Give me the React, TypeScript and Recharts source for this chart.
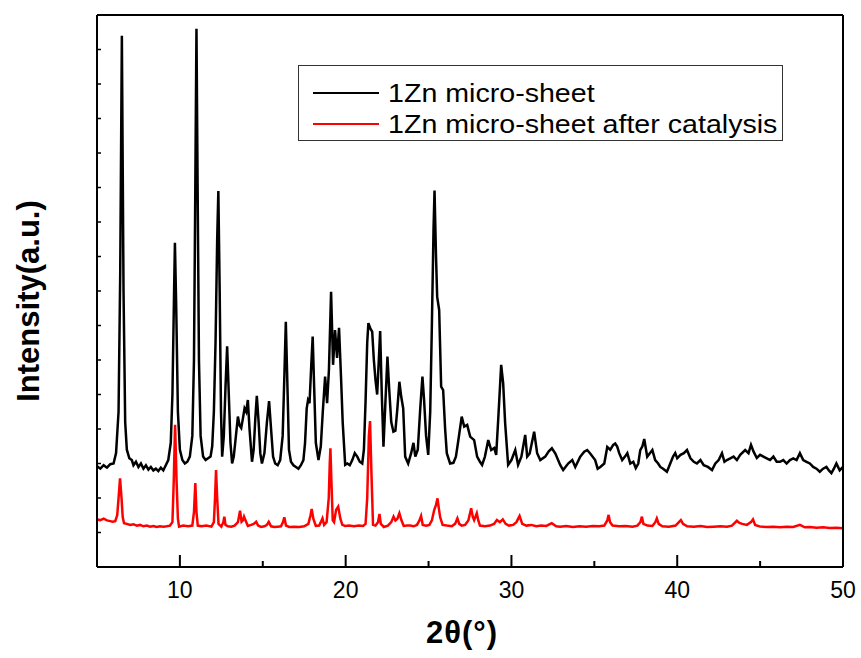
import React from 'react';
import { LineChart, Line, XAxis, YAxis, Legend } from 'recharts';

// 2θ / intensity pairs
const pristineX = [
  5.0, 5.2, 5.4, 5.6, 5.8, 6.0, 6.15, 6.3, 6.4, 6.5, 6.6, 6.7, 6.8, 6.95, 7.1, 7.2, 7.35, 7.5, 7.65, 7.8,
  7.95, 8.1, 8.25, 8.4, 8.55, 8.7, 8.85, 9.0, 9.15, 9.3, 9.45, 9.55, 9.65, 9.7, 9.78, 9.88, 10.0, 10.15, 10.3, 10.45,
  10.6, 10.75, 10.85, 10.93, 11.0, 11.07, 11.15, 11.25, 11.4, 11.55, 11.7, 11.85, 11.95, 12.05, 12.15, 12.25, 12.32, 12.4, 12.48, 12.55,
  12.65, 12.75, 12.85, 12.95, 13.05, 13.15, 13.25, 13.38, 13.5, 13.6, 13.7, 13.8, 13.9, 14.0, 14.1, 14.2, 14.35, 14.45, 14.55, 14.64,
  14.75, 14.85, 14.95, 15.1, 15.25, 15.38, 15.5, 15.62, 15.75, 15.9, 16.05, 16.2, 16.3, 16.39, 16.5, 16.58, 16.7, 16.85, 17.0, 17.15,
  17.3, 17.45, 17.55, 17.65, 17.73, 17.82, 17.92, 18.01, 18.1, 18.2, 18.36, 18.5, 18.62, 18.76, 18.88, 18.99, 19.12, 19.24, 19.36, 19.48,
  19.6, 19.72, 19.82, 19.97, 20.1, 20.25, 20.4, 20.55, 20.7, 20.85, 21.0, 21.1, 21.2, 21.3, 21.37, 21.5, 21.6, 21.7, 21.8, 21.9,
  21.98, 22.08, 22.18, 22.28, 22.4, 22.52, 22.62, 22.75, 22.88, 23.0, 23.12, 23.24, 23.35, 23.47, 23.59, 23.77, 23.95, 24.09, 24.2, 24.35,
  24.5, 24.63, 24.73, 24.85, 24.98, 25.1, 25.2, 25.3, 25.36, 25.45, 25.52, 25.64, 25.76, 25.88, 26.0, 26.1, 26.3, 26.5, 26.65, 26.8,
  27.0, 27.15, 27.33, 27.51, 27.75, 27.93, 28.1, 28.23, 28.4, 28.6, 28.78, 28.96, 29.08, 29.2, 29.38, 29.5, 29.62, 29.8, 30.0, 30.23,
  30.4, 30.6, 30.83, 30.95, 31.1, 31.37, 31.55, 31.74, 32.04, 32.25, 32.44, 32.65, 32.94, 33.12, 33.42, 33.67, 33.85, 34.15, 34.39, 34.57,
  34.75, 35.05, 35.2, 35.36, 35.6, 35.78, 35.96, 36.14, 36.26, 36.38, 36.5, 36.68, 36.85, 36.99, 37.17, 37.35, 37.5, 37.65, 37.77, 37.9,
  38.01, 38.19, 38.35, 38.5, 38.67, 38.85, 38.98, 39.15, 39.38, 39.58, 39.75, 39.88, 40.0, 40.2, 40.4, 40.59, 40.8, 41.0, 41.19, 41.4,
  41.6, 41.85, 42.1, 42.3, 42.5, 42.7, 42.85, 43.0, 43.2, 43.4, 43.6, 43.8, 44.1, 44.3, 44.45, 44.6, 44.8, 45.0, 45.2, 45.4,
  45.6, 45.8, 46.0, 46.2, 46.4, 46.6, 46.8, 47.0, 47.2, 47.4, 47.6, 47.8, 48.0, 48.2, 48.4, 48.6, 48.8, 49.0, 49.15, 49.3,
  49.45, 49.6, 49.8, 50.0,
];
const pristineY = [
  2.92, 2.85, 2.95, 2.88, 2.98, 3.0, 3.3, 4.5, 8.5, 15.4, 8.0, 4.2, 3.4, 3.15, 3.1, 2.95, 3.05, 2.9, 3.0, 2.85,
  2.95, 2.82, 2.9, 2.8, 2.85, 2.78, 2.88, 2.8, 2.95, 3.1, 3.6, 5.0, 8.0, 9.4, 7.5, 4.5, 3.4, 3.1, 3.0, 3.05,
  3.2, 3.8, 6.0, 11.0, 15.6, 11.0, 6.0, 3.8, 3.2, 3.1, 3.15, 3.2, 3.5, 4.5, 6.5, 9.5, 10.9, 8.0, 4.5, 3.2,
  3.8, 5.2, 6.4, 5.0, 3.6, 3.0, 3.2, 3.8, 4.36, 4.1, 4.03, 4.3, 4.6, 4.5, 4.84, 4.0, 3.05, 3.4, 4.3, 4.96,
  4.2, 3.3, 3.0, 3.3, 4.2, 4.81, 4.0, 3.2, 3.0, 2.95, 3.1, 3.8, 5.5, 7.11, 5.0, 3.4, 3.05, 2.95, 2.9, 2.85,
  2.95, 3.1, 3.6, 4.6, 4.84, 4.75, 5.8, 6.68, 5.2, 3.6, 3.1, 3.5, 4.5, 5.52, 4.75, 5.71, 7.98, 5.86, 6.87, 6.06,
  6.93, 5.5, 4.2, 2.96, 3.0, 2.95, 3.1, 3.3, 3.2, 3.05, 3.0, 3.4, 4.8, 6.5, 7.07, 6.9, 6.82, 6.0, 5.42, 5.0,
  5.8, 6.84, 5.0, 3.49, 4.8, 6.1, 5.2, 4.2, 3.92, 3.95, 4.6, 5.37, 4.94, 4.6, 3.2, 3.0, 3.3, 3.6, 3.2, 3.4,
  4.6, 5.52, 4.84, 3.8, 3.25, 4.5, 7.0, 9.8, 10.91, 9.0, 7.83, 7.45, 5.23, 5.13, 4.0, 3.3, 3.0, 3.02, 3.2, 3.68,
  4.36, 4.07, 4.12, 3.78, 3.68, 3.2, 3.05, 2.96, 3.2, 3.68, 3.39, 3.45, 3.25, 4.26, 5.86, 5.33, 4.17, 2.96, 3.1, 3.39,
  2.96, 3.2, 3.83, 3.2, 3.29, 3.92, 3.3, 3.1, 3.2, 3.35, 3.44, 3.29, 2.96, 2.81, 3.0, 3.1, 2.9, 3.2, 3.34, 3.39,
  3.29, 3.1, 2.85, 2.9, 3.0, 3.48, 3.4, 3.54, 3.58, 3.49, 3.3, 3.1, 3.2, 3.3, 3.0, 3.05, 2.87, 3.0, 3.39, 3.5,
  3.71, 3.2, 3.3, 3.39, 3.1, 3.0, 2.9, 2.85, 2.76, 3.0, 3.2, 3.3, 3.15, 3.25, 3.3, 3.39, 3.15, 3.05, 3.0, 3.1,
  2.95, 2.9, 2.81, 3.0, 3.1, 3.3, 3.05, 3.1, 3.15, 3.2, 3.1, 3.25, 3.39, 3.3, 3.54, 3.35, 3.16, 3.25, 3.2, 3.15,
  3.1, 3.2, 3.05, 3.05, 3.1, 3.0, 3.1, 3.15, 3.1, 3.3, 3.1, 3.05, 3.0, 2.9, 2.85, 2.76, 2.85, 2.9, 2.8, 2.72,
  2.85, 3.0, 2.8, 2.9,
];

const catalysisX = [
  5.0, 5.2, 5.4, 5.6, 5.8, 5.94, 6.1, 6.22, 6.3, 6.39, 6.48, 6.55, 6.63, 6.8, 7.0, 7.2, 7.4, 7.6, 7.8, 8.0,
  8.2, 8.4, 8.6, 8.8, 9.0, 9.2, 9.4, 9.55, 9.63, 9.71, 9.8, 9.88, 9.95, 10.2, 10.5, 10.75, 10.85, 10.93, 11.0, 11.08,
  11.3, 11.6, 11.9, 12.05, 12.12, 12.18, 12.25, 12.33, 12.5, 12.62, 12.68, 12.75, 12.9, 13.1, 13.3, 13.5, 13.63, 13.72, 13.8, 13.87,
  13.95, 14.1, 14.3, 14.45, 14.6, 14.72, 14.9, 15.1, 15.25, 15.36, 15.5, 15.7, 15.9, 16.1, 16.22, 16.3, 16.4, 16.6, 16.9, 17.2,
  17.5, 17.75, 17.88, 17.95, 18.05, 18.2, 18.4, 18.5, 18.6, 18.7, 18.85, 18.98, 19.04, 19.08, 19.14, 19.22, 19.3, 19.42, 19.55, 19.68,
  19.8, 19.97, 20.2, 20.5, 20.8, 21.05, 21.2, 21.3, 21.4, 21.47, 21.55, 21.65, 21.8, 21.95, 22.04, 22.12, 22.3, 22.55, 22.75, 22.89,
  23.0, 23.12, 23.24, 23.36, 23.5, 23.7, 23.89, 24.1, 24.3, 24.45, 24.55, 24.65, 24.85, 25.05, 25.2, 25.34, 25.45, 25.54, 25.62, 25.7,
  25.85, 26.1, 26.4, 26.6, 26.74, 26.85, 27.0, 27.2, 27.4, 27.57, 27.67, 27.75, 27.91, 28.0, 28.1, 28.4, 28.7, 28.95, 29.12, 29.3,
  29.48, 29.65, 29.85, 30.1, 30.3, 30.49, 30.65, 30.9, 31.2, 31.5, 31.8, 32.1, 32.43, 32.7, 32.94, 33.3, 33.7, 34.1, 34.5, 34.9,
  35.3, 35.6, 35.78, 35.86, 35.95, 36.1, 36.5, 36.9, 37.3, 37.6, 37.78, 37.87, 37.96, 38.2, 38.5, 38.68, 38.77, 38.88, 39.1, 39.5,
  39.9, 40.1, 40.22, 40.35, 40.6, 41.0, 41.4, 41.8, 42.2, 42.6, 43.0, 43.3, 43.6, 43.75, 43.92, 44.2, 44.45, 44.57, 44.7, 45.0,
  45.4, 45.8, 46.2, 46.6, 47.0, 47.4, 47.7, 48.0, 48.4, 48.8, 49.2, 49.6, 50.0,
];
const catalysisY = [
  1.38, 1.36, 1.4, 1.35, 1.33, 1.31, 1.33, 1.5, 2.0, 2.57, 2.0, 1.45, 1.27, 1.25, 1.22, 1.24, 1.2, 1.22, 1.18, 1.2,
  1.17, 1.19, 1.16, 1.18, 1.17, 1.18, 1.2, 1.3, 2.5, 4.12, 2.5, 1.4, 1.17, 1.2, 1.18, 1.2, 1.6, 2.43, 1.6, 1.2,
  1.18, 1.2, 1.17, 1.3, 2.0, 2.81, 2.0, 1.25, 1.17, 1.3, 1.46, 1.22, 1.18, 1.17, 1.2, 1.3, 1.63, 1.31, 1.35, 1.46,
  1.36, 1.19, 1.22, 1.25, 1.31, 1.2, 1.16, 1.18, 1.22, 1.31, 1.18, 1.16, 1.17, 1.18, 1.3, 1.44, 1.2, 1.16, 1.17, 1.16,
  1.18, 1.25, 1.5, 1.68, 1.4, 1.19, 1.2, 1.3, 1.41, 1.22, 1.3, 2.0, 3.0, 3.44, 2.5, 1.35, 1.3, 1.65, 1.75, 1.4,
  1.22, 1.19, 1.2, 1.18, 1.2, 1.19, 1.25, 2.0, 3.8, 4.23, 2.8, 1.22, 1.2, 1.3, 1.54, 1.25, 1.16, 1.2, 1.3, 1.46,
  1.35, 1.4, 1.56, 1.36, 1.19, 1.2, 1.2, 1.18, 1.22, 1.35, 1.48, 1.22, 1.2, 1.22, 1.35, 1.65, 1.8, 1.99, 1.7, 1.44,
  1.22, 1.2, 1.18, 1.25, 1.41, 1.25, 1.2, 1.22, 1.35, 1.7, 1.45, 1.36, 1.56, 1.35, 1.2, 1.18, 1.2, 1.25, 1.36, 1.3,
  1.38, 1.25, 1.2, 1.22, 1.3, 1.48, 1.25, 1.2, 1.22, 1.18, 1.2, 1.19, 1.27, 1.18, 1.17, 1.19, 1.16, 1.18, 1.17, 1.19,
  1.18, 1.2, 1.35, 1.51, 1.3, 1.2, 1.18, 1.19, 1.17, 1.2, 1.3, 1.46, 1.25, 1.2, 1.19, 1.3, 1.41, 1.25, 1.18, 1.17,
  1.2, 1.3, 1.36, 1.25, 1.18, 1.17, 1.19, 1.16, 1.17, 1.18, 1.17, 1.2, 1.34, 1.28, 1.25, 1.22, 1.3, 1.38, 1.22, 1.17,
  1.16, 1.17, 1.15, 1.17, 1.16, 1.22, 1.15, 1.16, 1.14, 1.15, 1.13, 1.14, 1.12,
];

const xTicks = [10, 15, 20, 25, 30, 35, 40, 45, 50];
const yTicks = [0, 1, 2, 3, 4, 5, 6, 7, 8, 9, 10, 11, 12, 13, 14, 15, 16];

const SERIES = [
  { name: '1Zn micro-sheet', color: '#000000', xs: pristineX, ys: pristineY },
  { name: '1Zn micro-sheet after catalysis', color: '#ff0000', xs: catalysisX, ys: catalysisY },
];

const FONT = 'Arial, "Liberation Sans", Helvetica, sans-serif';

const XTick = (props: any) => {
  const { x, y, payload } = props;
  const major = payload.value % 10 === 0;
  return (
    <g>
      <line x1={x} x2={x} y1={y} y2={y - (major ? 12 : 6)} stroke="#000" strokeWidth={2} />
      {major && (
        <text x={x} y={y + 31} textAnchor="middle" fontSize={23} fontFamily={FONT} fill="#000">
          {payload.value}
        </text>
      )}
    </g>
  );
};

const YTick = (props: any) => {
  const { x, y } = props;
  return <line x1={x} x2={x + 4} y1={y} y2={y} stroke="#000" strokeWidth={1.5} />;
};

const XTitle = (props: any) => {
  const vb = props.viewBox || {};
  return (
    <text
      x={vb.x + vb.width / 2 - 8}
      y={vb.y + 76}
      textAnchor="middle"
      fontSize={31}
      fontWeight="bold"
      letterSpacing={1}
      fontFamily={FONT}
    >
      2θ(°)
    </text>
  );
};

const YTitle = (props: any) => {
  const vb = props.viewBox || {};
  const cx = 28;
  const cy = vb.y + vb.height / 2 + 10;
  return (
    <text
      x={cx}
      y={cy}
      textAnchor="middle"
      dominantBaseline="central"
      transform={`rotate(-90, ${cx}, ${cy})`}
      fontSize={31}
      fontWeight="bold"
      fontFamily={FONT}
    >
      Intensity(a.u.)
    </text>
  );
};

const LegendBox = () => (
  <div
    style={{
      width: 485,
      height: 76,
      border: '1px solid #333',
      boxSizing: 'border-box',
      background: '#fff',
      fontFamily: FONT,
      position: 'relative',
    }}
  >
    {SERIES.map((s, i) => (
      <div
        key={s.name}
        style={{ position: 'absolute', left: 14, top: 12 + i * 31, height: 30, display: 'flex', alignItems: 'center' }}
      >
        <div style={{ width: 66, height: 2, background: s.color }} />
        <span
          style={{
            marginLeft: 9,
            fontSize: 26,
            color: '#000',
            whiteSpace: 'nowrap',
            display: 'inline-block',
            transform: 'scaleX(1.1)',
            transformOrigin: 'left center',
          }}
        >
          {s.name}
        </span>
      </div>
    ))}
  </div>
);

export default function App() {
  return (
    <div style={{ position: 'absolute', left: 0, top: 0, background: '#fff' }}>
      <LineChart width={861} height={658} margin={{ top: 14, right: 17, bottom: 11, left: 0 }}>
        <XAxis
          type="number"
          dataKey="x"
          domain={[5, 50]}
          ticks={xTicks}
          interval={0}
          allowDataOverflow
          height={80}
          tickSize={0}
          tickMargin={0}
          tickLine={false}
          tick={<XTick />}
          axisLine={{ stroke: '#000', strokeWidth: 2 }}
          label={<XTitle />}
        />
        <XAxis
          xAxisId="top"
          orientation="top"
          type="number"
          domain={[5, 50]}
          height={1}
          tick={false}
          tickLine={false}
          axisLine={{ stroke: '#000', strokeWidth: 2 }}
        />
        <YAxis
          type="number"
          domain={[0, 16]}
          ticks={yTicks}
          interval={0}
          allowDataOverflow
          width={97}
          tickSize={0}
          tickMargin={0}
          tickLine={false}
          tick={<YTick />}
          axisLine={{ stroke: '#000', strokeWidth: 2 }}
          label={<YTitle />}
        />
        <YAxis
          yAxisId="right"
          orientation="right"
          domain={[0, 16]}
          width={1}
          tick={false}
          tickLine={false}
          axisLine={{ stroke: '#000', strokeWidth: 2 }}
        />
        <Legend
          layout="horizontal"
          verticalAlign="middle"
          align="center"
          content={<LegendBox />}
          wrapperStyle={{ left: 298, top: 65, width: 485, height: 76 }}
        />
        {SERIES.map((s) => (
          <Line
            key={s.name}
            name={s.name}
            data={s.xs.map((x, i) => ({ x, y: s.ys[i] }))}
            dataKey="y"
            type="linear"
            stroke={s.color}
            strokeWidth={2.5}
            dot={false}
            activeDot={false}
            isAnimationActive={false}
          />
        ))}
      </LineChart>
    </div>
  );
}
